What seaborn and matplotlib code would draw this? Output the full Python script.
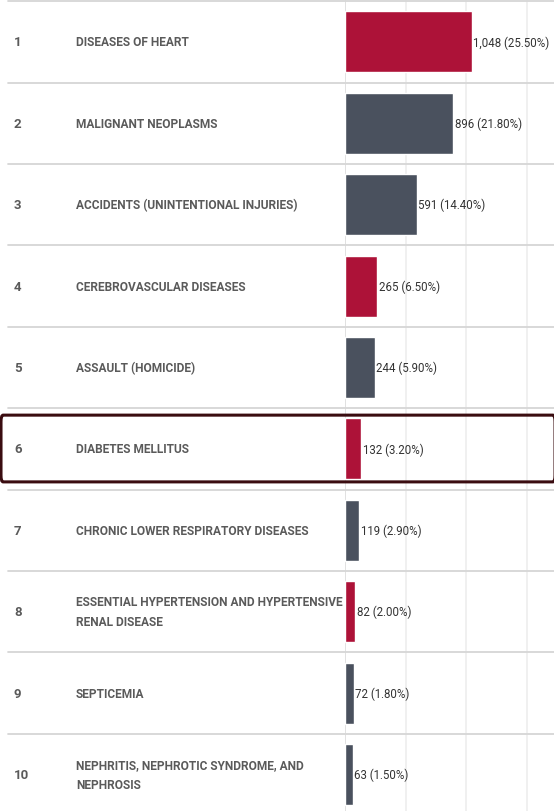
import matplotlib
matplotlib.use("Agg")
import matplotlib.pyplot as plt
import matplotlib.transforms as mtransforms
from matplotlib.patches import FancyBboxPatch
import seaborn as sns
import pandas as pd

# Data
ranks = [1, 2, 3, 4, 5, 6, 7, 8, 9, 10]
causes = [
    "DISEASES OF HEART",
    "MALIGNANT NEOPLASMS",
    "ACCIDENTS (UNINTENTIONAL INJURIES)",
    "CEREBROVASCULAR DISEASES",
    "ASSAULT (HOMICIDE)",
    "DIABETES MELLITUS",
    "CHRONIC LOWER RESPIRATORY DISEASES",
    "ESSENTIAL HYPERTENSION AND HYPERTENSIVE\nRENAL DISEASE",
    "SEPTICEMIA",
    "NEPHRITIS, NEPHROTIC SYNDROME, AND\nNEPHROSIS",
]
deaths = [1048, 896, 591, 265, 244, 132, 119, 82, 72, 63]
shares = [25.5, 21.8, 14.4, 6.5, 5.9, 3.2, 2.9, 2.0, 1.8, 1.5]
group = ["red", "gray", "gray", "red", "gray", "red", "gray", "red", "gray", "gray"]

RED = "#ad1238"
GRAY = "#4a515e"
W, H = 554, 812

sns.set_theme(style="white")
plt.rcParams["font.family"] = ["Roboto", "DejaVu Sans"]

df = pd.DataFrame({"cause": causes, "deaths": deaths, "group": group})

fig = plt.figure(figsize=(W / 100, H / 100), dpi=100)
ax = fig.add_axes([345 / W, 0, (W - 345) / W, 1])

for gx in [0, 500, 1000, 1500]:
    ax.axvline(gx, color="#dcdcdc" if gx == 0 else "#eeeeee", lw=1.2, zorder=0)

sns.barplot(data=df, x="deaths", y="cause", hue="group", orient="h",
            palette={"red": RED, "gray": GRAY}, width=0.75, dodge=False,
            saturation=1, legend=False, ax=ax, zorder=2)

ax.set_xlim(0, 1727)
ax.set_ylim(9.448, -0.527)
ax.set_xlabel("")
ax.set_ylabel("")
ax.set_xticks([])
ax.set_yticks([])
for s in ax.spines.values():
    s.set_visible(False)

trans = mtransforms.blended_transform_factory(fig.transFigure, ax.transData)

# row separators
for i in range(len(causes) + 1):
    ax.plot([8 / W, 1], [i - 0.5, i - 0.5], transform=trans, color="#d6d6d6",
            lw=1.3, clip_on=False, zorder=1)

for i, (r, c, v, p) in enumerate(zip(ranks, causes, deaths, shares)):
    ax.text(14 / W, i, str(r), transform=trans, ha="left", va="center",
            fontsize=9.5, fontweight="bold", color="#5a5a5a")
    ax.text(76 / W, i, c, transform=trans, ha="left", va="center",
            fontsize=8.6, fontweight="bold", color="#5a5a5a", linespacing=1.75)
    ax.annotate(f"{v:,} ({p:.2f}%)", xy=(v, i), xytext=(1.2, 0),
                textcoords="offset points", ha="left", va="center",
                fontsize=8.3, color="#333333", annotation_clip=False)

# highlight box around row 6
box = FancyBboxPatch((1 / W, 4.585), 1.0, 0.82, transform=trans,
                     boxstyle="round,pad=0,rounding_size=0.004",
                     fill=False, ec="#3a0c10", lw=2.2, clip_on=False, zorder=5,
                     mutation_aspect=20)
fig.add_artist(box)

fig.savefig("out.png", dpi=100)
